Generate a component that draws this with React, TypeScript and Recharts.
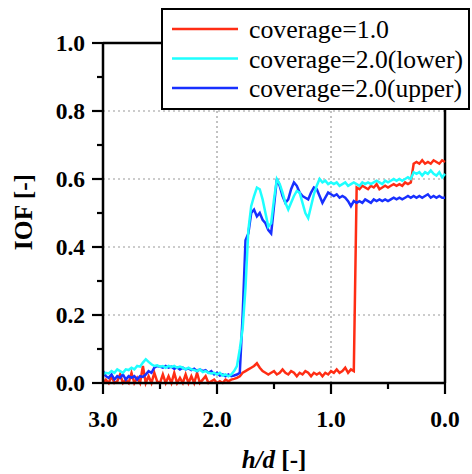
import React from "react";
import { LineChart, Line, XAxis, YAxis, ReferenceLine, Legend } from "recharts";

const hd = [
  3.0, 2.975, 2.95, 2.925, 2.9, 2.875, 2.85, 2.825, 2.8, 2.775,
  2.75, 2.725, 2.7, 2.675, 2.65, 2.625, 2.6, 2.575, 2.55, 2.525,
  2.5, 2.475, 2.45, 2.425, 2.4, 2.375, 2.35, 2.325, 2.3, 2.275,
  2.25, 2.225, 2.2, 2.175, 2.15, 2.125, 2.1, 2.075, 2.05, 2.025,
  2.0, 1.975, 1.95, 1.925, 1.9, 1.875, 1.85, 1.825, 1.8, 1.775,
  1.75, 1.725, 1.7, 1.675, 1.65, 1.625, 1.6, 1.575, 1.55, 1.525,
  1.5, 1.475, 1.45, 1.425, 1.4, 1.375, 1.35, 1.325, 1.3, 1.275,
  1.25, 1.225, 1.2, 1.175, 1.15, 1.125, 1.1, 1.075, 1.05, 1.025,
  1.0, 0.975, 0.95, 0.925, 0.9, 0.875, 0.85, 0.825, 0.8, 0.775,
  0.75, 0.725, 0.7, 0.675, 0.65, 0.625, 0.6, 0.575, 0.55, 0.525,
  0.5, 0.475, 0.45, 0.425, 0.4, 0.375, 0.35, 0.325, 0.3, 0.275,
  0.25, 0.225, 0.2, 0.175, 0.15, 0.125, 0.1, 0.075, 0.05, 0.025,
  0.0,
];

const coverage10 = [
  0.0, 0.01, 0.0, 0.02, 0.0, 0.005, 0.025, 0.0, 0.01, 0.0,
  0.03, 0.0, 0.015, 0.0, 0.05, 0.0, 0.02, 0.0, 0.03, 0.005,
  0.0, 0.025, 0.0, 0.02, 0.0, 0.03, 0.0, 0.015, 0.0, 0.025,
  0.0, 0.02, 0.0, 0.03, 0.0, 0.01, 0.02, 0.0, 0.005, 0.01,
  0.0, 0.005, 0.0, 0.01, 0.005, 0.01, 0.012, 0.015, 0.02, 0.03,
  0.035, 0.04, 0.045, 0.05, 0.058, 0.045, 0.035, 0.03, 0.025, 0.03,
  0.035, 0.025, 0.03, 0.04, 0.03, 0.025, 0.035, 0.03, 0.02, 0.03,
  0.025, 0.035, 0.03, 0.02, 0.03, 0.025, 0.03, 0.02, 0.03, 0.025,
  0.035, 0.03, 0.04, 0.03, 0.035, 0.045, 0.03, 0.04, 0.035, 0.575,
  0.57, 0.58, 0.575, 0.57, 0.58, 0.575, 0.585, 0.57, 0.575, 0.58,
  0.575, 0.58, 0.585, 0.58, 0.585, 0.58, 0.59, 0.585, 0.59, 0.645,
  0.65, 0.645, 0.655, 0.645, 0.65, 0.645, 0.655, 0.65, 0.645, 0.655,
  0.65,
];

const coverage20Lower = [
  0.025, 0.03, 0.028, 0.035, 0.03, 0.04, 0.035, 0.03, 0.04, 0.038,
  0.045, 0.04, 0.05, 0.048, 0.06, 0.07, 0.062, 0.055, 0.05, 0.052,
  0.048, 0.05, 0.045, 0.05, 0.047, 0.05, 0.045, 0.048, 0.045, 0.04,
  0.045, 0.04, 0.038, 0.035, 0.04, 0.032, 0.035, 0.03, 0.028, 0.03,
  0.025, 0.03, 0.022, 0.025, 0.02, 0.025, 0.035, 0.05, 0.1, 0.16,
  0.28, 0.45, 0.52, 0.55, 0.575, 0.57, 0.54, 0.5, 0.46, 0.47,
  0.54, 0.6, 0.585, 0.56, 0.53, 0.51, 0.53, 0.55, 0.565, 0.56,
  0.53, 0.5, 0.485, 0.52, 0.555, 0.58, 0.6, 0.59, 0.595, 0.585,
  0.59, 0.585, 0.59, 0.58, 0.585, 0.59, 0.58, 0.585, 0.59, 0.585,
  0.58, 0.59, 0.585, 0.59, 0.585, 0.59, 0.595, 0.59, 0.585, 0.595,
  0.59, 0.595, 0.6, 0.595, 0.6, 0.595, 0.6, 0.605, 0.6, 0.62,
  0.615, 0.62, 0.61, 0.62, 0.615, 0.625, 0.615, 0.61, 0.62, 0.605,
  0.615,
];

const coverage20Upper = [
  0.035, 0.02, 0.015, 0.025, 0.01, 0.02, 0.015, 0.025, 0.01, 0.02,
  0.015, 0.02, 0.01, 0.02, 0.018, 0.025, 0.035, 0.03, 0.045, 0.05,
  0.048, 0.045, 0.05, 0.045, 0.048, 0.042, 0.046, 0.04, 0.045, 0.04,
  0.043, 0.038, 0.042, 0.035, 0.04, 0.035, 0.038, 0.03, 0.035, 0.025,
  0.03, 0.022, 0.025, 0.02, 0.025, 0.02, 0.022, 0.025, 0.03, 0.2,
  0.42, 0.44, 0.5, 0.51, 0.49, 0.5, 0.48, 0.47, 0.45, 0.44,
  0.52, 0.6, 0.58, 0.55, 0.53, 0.54, 0.57, 0.59, 0.58, 0.56,
  0.55, 0.545, 0.54, 0.56, 0.575, 0.57, 0.55, 0.53, 0.545, 0.56,
  0.555, 0.55, 0.555, 0.545, 0.55, 0.545, 0.535, 0.52, 0.535, 0.53,
  0.535, 0.53, 0.54, 0.535, 0.53, 0.54, 0.535, 0.54, 0.535, 0.54,
  0.535, 0.54, 0.545, 0.54, 0.545, 0.54, 0.545, 0.55, 0.545, 0.55,
  0.545, 0.55, 0.545, 0.55, 0.555, 0.545, 0.55, 0.545, 0.55, 0.545,
  0.545,
];

const xTicks = [3, 2.5, 2, 1.5, 1, 0.5, 0];
const yTicks = [0, 0.1, 0.2, 0.3, 0.4, 0.5, 0.6, 0.7, 0.8, 0.9, 1];
const xGrid = [2, 1];
const yGrid = [0.2, 0.4, 0.6, 0.8];
const legendLabels = ["coverage=1.0", "coverage=2.0(lower)", "coverage=2.0(upper)"];

const RED = "#ff2d14";
const CYAN = "#1effff";
const BLUE = "#1830ff";
const legendColors = [RED, CYAN, BLUE];
const legendWidths = [140, 214, 213];

const data = hd.map((h, i) => ({
  hd: h,
  c10: coverage10[i],
  c20l: coverage20Lower[i],
  c20u: coverage20Upper[i],
}));

const FONT = "'Liberation Serif', 'Times New Roman', serif";

const XTick = (props: any) => {
  const { x, y, payload } = props;
  const v = payload.value;
  const major = Math.abs(v - Math.round(v)) < 1e-6;
  return (
    <g>
      <line x1={x} x2={x} y1={y} y2={y + (major ? 11 : 6)} stroke="#000" strokeWidth={2.2} />
      {major && (
        <text x={x} y={y + 44} textAnchor="middle" fontFamily={FONT} fontWeight="bold" fontSize={23.5} fill="#000">
          {v.toFixed(1)}
        </text>
      )}
    </g>
  );
};

const YTick = (props: any) => {
  const { x, y, payload } = props;
  const v = payload.value;
  const major = Math.round(v * 10) % 2 === 0;
  return (
    <g>
      <line x1={x} x2={x - (major ? 11 : 6)} y1={y} y2={y} stroke="#000" strokeWidth={2.2} />
      {major && (
        <text x={x - 18} y={y + 8} textAnchor="end" fontFamily={FONT} fontWeight="bold" fontSize={23.5} fill="#000">
          {v.toFixed(1)}
        </text>
      )}
    </g>
  );
};

const XTitle = (props: any) => {
  const vb = props.viewBox || { x: 103, y: 383, width: 342, height: 91 };
  const cx = vb.x + vb.width / 2;
  return (
    <text x={cx} y={vb.y + 85} textAnchor="middle" fontFamily={FONT} fontWeight="bold" fontSize={25} fill="#000">
      <tspan fontStyle="italic">h/d</tspan>
      <tspan> [-]</tspan>
    </text>
  );
};

const YTitle = (props: any) => {
  const vb = props.viewBox || { x: 0, y: 43, width: 103, height: 340 };
  const cy = vb.y + vb.height / 2 - 1;
  const bx = 32;
  return (
    <text
      x={bx}
      y={cy}
      transform={`rotate(-90, ${bx}, ${cy})`}
      textAnchor="middle"
      fontFamily={FONT}
      fontWeight="bold"
      fontSize={25.5}
      fill="#000"
    >
      IOF [-]
    </text>
  );
};

const LegendBox = () => (
  <svg width={309} height={102} style={{ display: "block" }}>
    <rect x={1} y={1} width={307} height={100} fill="#fff" stroke="#000" strokeWidth={2} />
    {legendLabels.map((label, k) => (
      <g key={label}>
        <line x1={11} x2={77} y1={21 + 29.5 * k} y2={21 + 29.5 * k} stroke={legendColors[k]} strokeWidth={2.6} />
        <text
          x={88}
          y={30 + 29.5 * k}
          fontFamily={FONT}
          fontSize={25}
          fill="#000"
          textLength={legendWidths[k]}
          lengthAdjust="spacingAndGlyphs"
        >
          {label}
        </text>
      </g>
    ))}
  </svg>
);

export default function App() {
  return (
    <div style={{ position: "absolute", left: 0, top: 0, width: 472, height: 474, background: "#fff" }}>
      <LineChart width={472} height={474} data={data} margin={{ top: 43, right: 27, bottom: 0, left: 0 }}>
        <XAxis
          dataKey="hd"
          type="number"
          domain={[0, 3]}
          reversed
          ticks={xTicks}
          interval={0}
          height={91}
          tickLine={false}
          tickSize={0}
          tickMargin={0}
          tick={XTick}
          axisLine={{ stroke: "#000", strokeWidth: 2.5 }}
          label={<XTitle />}
        />
        <YAxis
          type="number"
          domain={[0, 1]}
          ticks={yTicks}
          interval={0}
          width={103}
          tickLine={false}
          tickSize={0}
          tickMargin={0}
          tick={YTick}
          axisLine={{ stroke: "#000", strokeWidth: 2.5 }}
          label={<YTitle />}
        />
        {yGrid.map((v) => (
          <ReferenceLine key={"gy" + v} y={v} stroke="#9a9a9a" strokeWidth={1.2} strokeDasharray="2 3" />
        ))}
        {xGrid.map((v) => (
          <ReferenceLine key={"gx" + v} x={v} stroke="#9a9a9a" strokeWidth={1.2} strokeDasharray="2 3" />
        ))}
        <ReferenceLine y={1} stroke="#000" strokeWidth={2.5} />
        <ReferenceLine x={0} stroke="#000" strokeWidth={2.5} />
        <Line dataKey="c10" stroke={RED} strokeWidth={2.5} dot={false} type="linear" isAnimationActive={false} />
        <Line dataKey="c20u" stroke={BLUE} strokeWidth={2.5} dot={false} type="linear" isAnimationActive={false} />
        <Line dataKey="c20l" stroke={CYAN} strokeWidth={2.5} dot={false} type="linear" isAnimationActive={false} />
        <Legend
          layout="vertical"
          align="center"
          verticalAlign="middle"
          wrapperStyle={{ left: 161, top: 8, width: 309, height: 102, margin: 0, padding: 0 }}
          content={() => <LegendBox />}
        />
      </LineChart>
    </div>
  );
}
